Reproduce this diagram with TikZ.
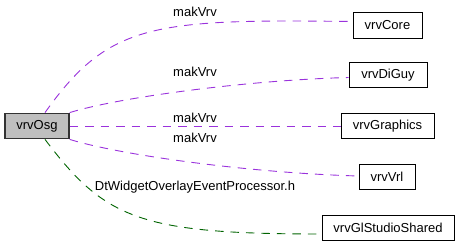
\documentclass[tikz,border=0pt]{standalone}
\usepackage{fontspec}
\setmainfont{Liberation Sans}
\begin{document}
\begin{tikzpicture}[x=1pt,y=-1pt,
  font=\fontsize{13}{15}\selectfont,
  box/.style={draw=black,line width=0.9pt,fill=white,inner sep=0pt,minimum height=25.5pt},
  mainbox/.style={box,draw=black!80,line width=1.3pt,fill=black!25},
  uses/.style={color={rgb,255:red,154;green,50;blue,220},line width=0.9pt,dash pattern=on 8.5pt off 7pt},
  inh/.style={color={rgb,255:red,0;green,100;blue,0},line width=0.9pt,dash pattern=on 8.5pt off 7pt},
  lbl/.style={inner sep=0pt,text=black}]
\useasboundingbox (0,0) rectangle (459,247);
\node[mainbox,minimum width=64pt] (osg) at (37,126) {vrvOsg};
\node[box,minimum width=69pt] (core) at (387.5,25.5) {vrvCore};
\node[box,minimum width=78pt] (diguy) at (388,75) {vrvDiGuy};
\node[box,minimum width=93pt] (gr) at (387.5,126) {vrvGraphics};
\node[box,minimum width=56pt] (vrl) at (387,177) {vrvVrl};
\node[box,minimum width=132pt] (gls) at (388,228) {vrvGlStudioShared};

\draw[uses] ([xshift=8pt]osg.north) .. controls (108.8,22.8) and (153,19) .. ([yshift=4pt]core.west);
\draw[uses] (osg.north east) .. controls (120,97) and (250,80) .. ([yshift=-2.5pt]diguy.west);
\draw[uses] (osg.east) -- (gr.west);
\draw[uses] (osg.south east) .. controls (120,155) and (250,173) .. ([yshift=1pt]vrl.west);
\draw[inh] ([xshift=8pt]osg.south) .. controls (105,219) and (140,234) .. ([yshift=-6pt]gls.west);

\node[lbl] (l1) at (195,12) {makVrv};
\node[lbl] (l2) at (195,72) {makVrv};
\node[lbl] (l3) at (195,118) {makVrv};
\node[lbl] (l4) at (195,138) {makVrv};
\node[lbl] (l5) at (195,187) {DtWidgetOverlayEventProcessor.h};
\end{tikzpicture}
\end{document}
